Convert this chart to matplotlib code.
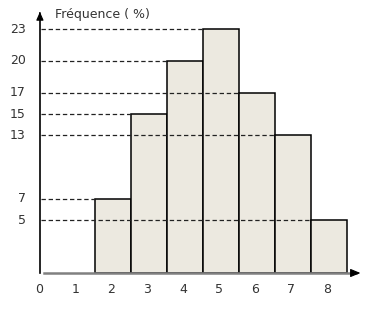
import matplotlib
matplotlib.use("Agg")
import matplotlib.pyplot as plt

categories = [2, 3, 4, 5, 6, 7, 8]
frequences = [7, 15, 20, 23, 17, 13, 5]
xtick_labels = ["0", "1", "2", "3", "4", "5", "6", "7", "8"]
ytick_values = [5, 7, 13, 15, 17, 20, 23]
ylabel_text = "Fréquence ( %)"

W, H = 371, 312
fig = plt.figure(figsize=(W / 100, H / 100), dpi=100)
# x: 0 at px 41, 36 px per unit ; y: 0 at px 273 from top, 10.6 px per unit
x0px, ux = 41, 36.0
y0px, uy = 273, 10.6
ax = fig.add_axes([0, 0, 1, 1])
ax.set_xlim(-x0px / ux, (W - x0px) / ux)
ax.set_ylim(-(H - y0px) / uy, y0px / uy)
ax.axis("off")

ax.bar(categories, frequences, width=1.0, color="#ECE9E0", edgecolor="black",
       linewidth=1.1, zorder=2)

for c, f in zip(categories, frequences):
    ax.plot([-0.0, c - 0.5], [f, f], linestyle=(0, (3.5, 2.2)), color="#222222",
            linewidth=0.9, zorder=3)

# axes
ax.plot([0.08, 8.75], [0, 0], color="#808080", linewidth=1.8, zorder=4)
ax.annotate("", xy=(8.95, 0), xytext=(8.6, 0),
            arrowprops=dict(arrowstyle="-|>,head_length=0.6,head_width=0.25",
                            color="black", lw=0.8), zorder=5)
ax.plot([-0.03, -0.03], [0, 24.3], color="black", linewidth=1.2, zorder=4)
ax.annotate("", xy=(-0.03, 24.9), xytext=(-0.03, 24.2),
            arrowprops=dict(arrowstyle="-|>,head_length=0.5,head_width=0.22",
                            color="black", lw=0.8), zorder=5)

for v in ytick_values:
    ax.text(-0.42, v, str(v), ha="right", va="center", fontsize=9, color="#333333")
for i, t in enumerate(xtick_labels):
    ax.text(i - 0.05, -1.6, t, ha="center", va="center", fontsize=9, color="#333333")

ax.text(0.4, 24.4, ylabel_text, ha="left", va="center", fontsize=9, color="#333333")

fig.savefig("out.png", dpi=100, facecolor="white")
